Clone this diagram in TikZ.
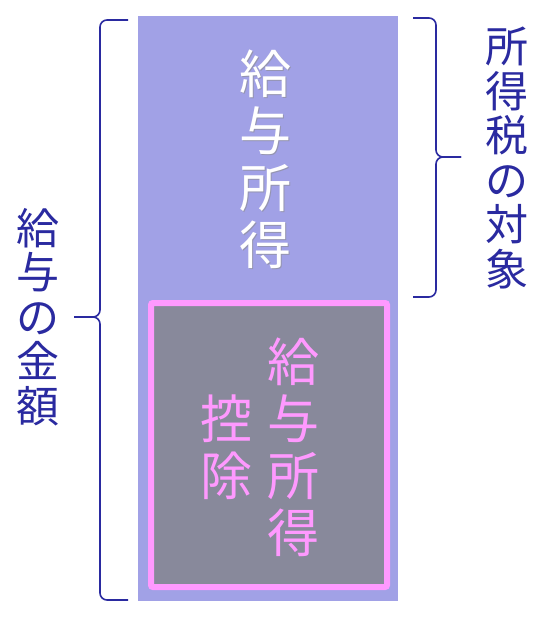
\documentclass[tikz,border=0pt]{standalone}
\usepackage{fontspec}
\setmainfont{Noto Sans CJK JP}
\definecolor{salaryfill}{RGB}{161,161,230}
\definecolor{deductfill}{RGB}{136,137,155}
\definecolor{deductpink}{RGB}{255,153,255}
\definecolor{bracenavy}{RGB}{42,42,160}
\tikzset{
  bigtate/.style={align=center, inner sep=0pt, font=\fontsize{52}{57}\selectfont},
  sidetate/.style={align=center, inner sep=0pt, font=\fontsize{43}{44.5}\selectfont, text=bracenavy},
  bracepath/.style={draw=bracenavy, line width=1.6pt, rounded corners=7pt}
}
\begin{document}
\begin{tikzpicture}[x=1pt, y=-1pt]
        \useasboundingbox (0,0) rectangle (557,622);

        % salary column and deduction box
        \fill[salaryfill] (138,16) rectangle (398,601);
        \draw[deductpink, line width=6pt, fill=deductfill, rounded corners=2pt] (151,303) rectangle (387,587);

        % upper part: white text with a soft shadow
        \node[bigtate, text=black!45, opacity=0.6] at (266.5,160.5) {給\\与\\所\\得};
        \node[bigtate, text=white] (shotoku) at (265,159) {給\\与\\所\\得};

        % lower part
        \node[bigtate, text=deductpink] (kojoname) at (293,447) {給\\与\\所\\得};
        \node[bigtate, text=deductpink] (kojo) at (226,447) {控\\除};

        % side labels
        \node[sidetate] (kingaku) at (38,317) {給\\与\\の\\金\\額};
        \node[sidetate] (taisho) at (507,158) {所\\得\\税\\の\\対\\象};

        % braces
        \coordinate (ltop) at (128,20);
        \coordinate (lbot) at (128,600);
        \coordinate (ltip) at (74,317);
        \draw[bracepath] (ltop) -- (100,20) -- (100,317) -- (ltip);
        \draw[bracepath] (ltip) -- (100,317) -- (100,600) -- (lbot);

        \coordinate (rtop) at (413,18);
        \coordinate (rbot) at (413,297);
        \coordinate (rtip) at (461,157);
        \draw[bracepath] (rtop) -- (436,18) -- (436,157) -- (rtip);
        \draw[bracepath] (rtip) -- (436,157) -- (436,297) -- (rbot);

    \end{tikzpicture}
\end{document}
